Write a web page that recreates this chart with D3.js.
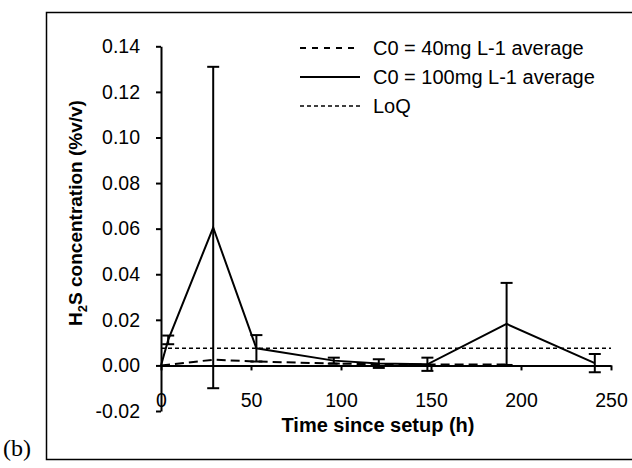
<!DOCTYPE html>
<html>
<head>
<meta charset="utf-8">
<script src="https://cdn.jsdelivr.net/npm/d3@7"></script>
<style>
  body { margin: 0; background: #fff; }
  text { font-family: "Liberation Sans", Arial, sans-serif; fill: #000; }
</style>
</head>
<body>
<svg id="chart" width="632" height="468"></svg>
<script>
// values
const timeHours = [0, 4, 29, 53, 96, 121, 148, 192, 241];
const c100Mean  = [0, 0.0112, 0.0605, 0.0075, 0.0021, 0.0008, 0.0005, 0.0182, 0.001];
const c100Err   = [0, 0.0019, 0.0705, 0.0058, 0.0013, 0.0019, 0.0029, 0.018, 0.004];
const c40Hours  = [0, 4, 29, 53, 96, 121, 148, 192];
const c40Mean   = [0, 0.0003, 0.0025, 0.0017, 0.0008, 0.0005, 0.0004, 0.0004];
const loqValue  = 0.0075;
const xTicks = [0, 50, 100, 150, 200, 250];
const yTicks = [-0.02, 0, 0.02, 0.04, 0.06, 0.08, 0.10, 0.12, 0.14];
const legendLabels = ["C0 = 40mg L-1 average", "C0 = 100mg L-1 average", "LoQ"];

const svg = d3.select("#chart");

// outer frame
svg.append("path")
    .attr("d", "M640,12.5H46.5V459.5H640")
    .attr("fill", "none")
    .attr("stroke", "#000")
    .attr("stroke-width", 1.5);

svg.append("text")
    .attr("x", 3)
    .attr("y", 456)
    .style("font-family", "'Liberation Serif', 'Times New Roman', serif")
    .attr("font-size", 24)
    .text("(b)");

const x = d3.scaleLinear().domain([0, 250]).range([161, 611]);
const y = d3.scaleLinear().domain([-0.02, 0.14]).range([411, 46.3]);

const fmt = d3.format(".2f");

// axes
const xAxis = svg.append("g")
    .attr("transform", `translate(0,${y(0)})`)
    .call(d3.axisBottom(x).tickValues(xTicks).tickSizeInner(5).tickSizeOuter(0).tickPadding(23));

const yAxis = svg.append("g")
    .attr("transform", `translate(${x(0)},0)`)
    .call(d3.axisLeft(y).tickValues(yTicks).tickSizeInner(5).tickSizeOuter(0).tickPadding(16)
        .tickFormat(d => fmt(d).replace("\u2212", "-")));

[xAxis, yAxis].forEach(g => {
    g.select(".domain").attr("stroke-width", 2);
    g.selectAll(".tick line").attr("stroke-width", 2);
    g.selectAll(".tick text")
        .attr("font-size", 19.5)
        .attr("font-family", null);
});

// axis titles
svg.append("text")
    .attr("x", 378)
    .attr("y", 432)
    .attr("text-anchor", "middle")
    .attr("font-size", 20)
    .attr("font-weight", "bold")
    .text("Time since setup (h)");

const yTitle = svg.append("text")
    .attr("transform", "translate(82,213) rotate(-90)")
    .attr("text-anchor", "middle")
    .attr("font-size", 19)
    .attr("font-weight", "bold");
yTitle.append("tspan").text("H");
yTitle.append("tspan").attr("font-size", 13).attr("dy", 5).text("2");
yTitle.append("tspan").attr("dy", -5).text("S concentration (%v/v)");

// LoQ line
svg.append("line")
    .attr("x1", x(0))
    .attr("x2", x(250))
    .attr("y1", y(loqValue))
    .attr("y2", y(loqValue))
    .attr("stroke", "#000")
    .attr("stroke-width", 1.5)
    .attr("stroke-dasharray", "4,3");

const line = d3.line()
    .x(d => x(d[0]))
    .y(d => y(d[1]));

// C0 = 40 series
svg.append("path")
    .datum(c40Hours.map((t, i) => [t, c40Mean[i]]))
    .attr("d", line)
    .attr("fill", "none")
    .attr("stroke", "#000")
    .attr("stroke-width", 2)
    .attr("stroke-dasharray", "9,5");

// C0 = 100 series
svg.append("path")
    .datum(timeHours.map((t, i) => [t, c100Mean[i]]))
    .attr("d", line)
    .attr("fill", "none")
    .attr("stroke", "#000")
    .attr("stroke-width", 2);

// error bars
const bars = svg.append("g")
    .attr("stroke", "#000")
    .attr("stroke-width", 2)
    .selectAll("g")
    .data(timeHours.map((t, i) => ({t: t, m: c100Mean[i], e: c100Err[i]})).filter(d => d.e > 0))
    .enter().append("g");

bars.append("line")
    .attr("x1", d => x(d.t)).attr("x2", d => x(d.t))
    .attr("y1", d => y(d.m + d.e)).attr("y2", d => y(d.m - d.e));
bars.append("line")
    .attr("x1", d => x(d.t) - 6).attr("x2", d => x(d.t) + 6)
    .attr("y1", d => y(d.m + d.e)).attr("y2", d => y(d.m + d.e));
bars.append("line")
    .attr("x1", d => x(d.t) - 6).attr("x2", d => x(d.t) + 6)
    .attr("y1", d => y(d.m - d.e)).attr("y2", d => y(d.m - d.e));

// legend
const legendDash = ["6,6", null, "4,3"];
const legend = svg.append("g")
    .selectAll("g")
    .data(legendLabels)
    .enter().append("g")
    .attr("transform", (d, i) => `translate(300,${48 + i * 29})`);

legend.append("line")
    .attr("x1", 0)
    .attr("x2", 60)
    .attr("stroke", "#000")
    .attr("stroke-width", (d, i) => i === 2 ? 1.5 : 2)
    .attr("stroke-dasharray", (d, i) => legendDash[i]);

legend.append("text")
    .attr("x", 73)
    .attr("dy", "0.35em")
    .attr("font-size", 20)
    .text(d => d);
</script>
</body>
</html>
